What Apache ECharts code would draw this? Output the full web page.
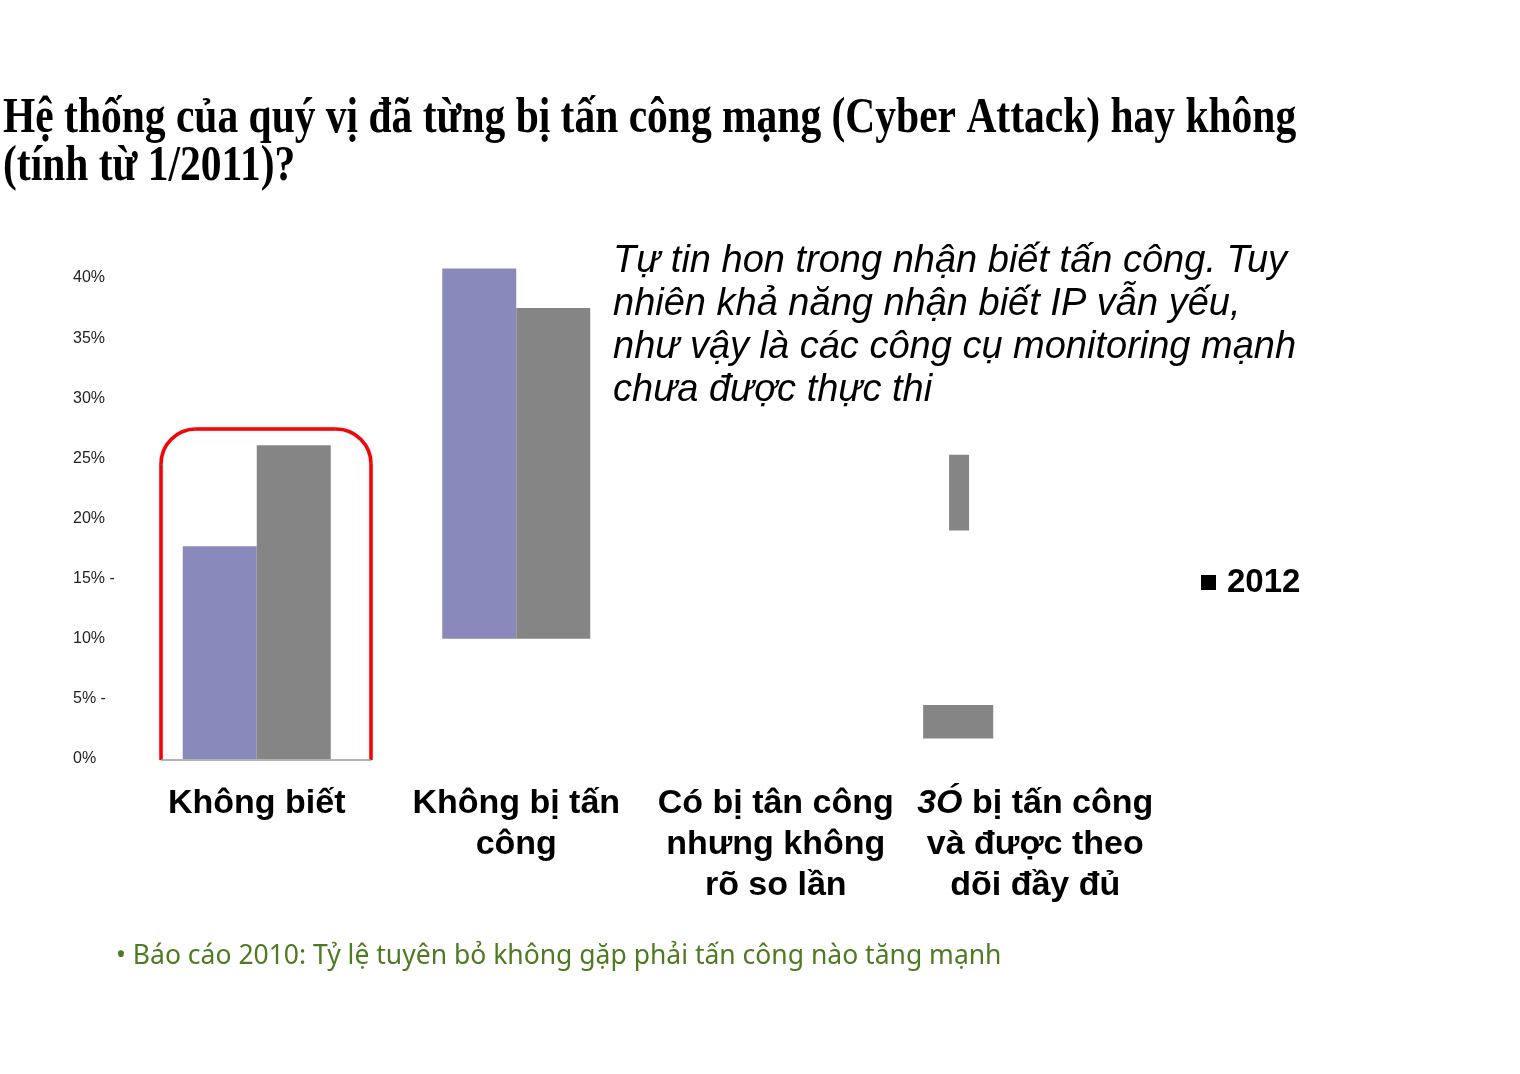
<!DOCTYPE html>
<html>
<head>
<meta charset="utf-8">
<script src="https://cdn.jsdelivr.net/npm/echarts@6/dist/echarts.min.js"></script>
<style>
html,body{margin:0;padding:0;background:#fff;}
#chart{width:1520px;height:1074px;}
</style>
</head>
<body>
<div id="chart"></div>
<script>
// ---- data ----
const categories = [
  'Không biết',
  'Không bị tấn\ncông',
  'Có bị tân công\nnhưng không\nrõ so lần',
  '3Ó bị tấn công\nvà được theo\ndõi đầy đủ'
];
const tickLabels = ['0%', '5% -', '10%', '15% -', '20%', '25%', '30%', '35%', '40%'];
const series2011Low  = [0, 10, null, null];
const series2011High = [17.7, 40.8, null, null];
const series2012Low  = [0, 10, null, null];
const series2012High = [26.1, 37.5, null, null];
// stray grey fragments in the last category: [category index, low, high]
const fragCat  = [3, 3];
const fragLow  = [1.7, 19.0];
const fragHigh = [4.5, 25.3];

const titleText = 'Hệ thống của quý vị đã từng bị tấn công mạng (Cyber Attack) hay không\n(tính từ 1/2011)?';
const noteText = 'Tự tin hon trong nhận biết tấn công. Tuy\nnhiên khả năng nhận biết IP vẫn yếu,\nnhư vậy là các công cụ monitoring mạnh\nchưa được thực thi';
const footText = '• Báo cáo 2010: Tỷ lệ tuyên bỏ không gặp phải tấn công nào tăng mạnh';

// ---- build ----
const diff = (hi, lo) => hi.map((v, i) => v == null ? null : +(v - lo[i]).toFixed(2));
const fragData = fragCat.map((c, i) => [c, fragLow[i], fragHigh[i]]);
const fragX = [[-0.432, -0.162], [-0.332, -0.255]]; // horizontal placement within band

const chart = echarts.init(document.getElementById('chart'));
const BAR_W = 74;
const boxStyle = { fill: 'none', stroke: '#FF0000', lineWidth: 3.5, shadowColor: 'rgba(0,230,255,0.6)', shadowBlur: 3 };
const option = {
  animation: false,
  backgroundColor: '#ffffff',
  grid: { left: 127, right: 355, top: 254, bottom: 315 },
  legend: {
    data: ['2012'],
    left: 1196, top: 561,
    icon: 'rect', itemWidth: 15, itemHeight: 15,
    itemStyle: { color: '#000' },
    textStyle: { fontFamily: '"Liberation Sans", Arial', fontWeight: 'bold', fontSize: 33, color: '#000', padding: [0, 0, 0, 6] }
  },
  xAxis: {
    type: 'category',
    data: categories,
    axisLine: { show: false },
    axisTick: { show: false },
    splitLine: { show: false },
    axisLabel: {
      interval: 0,
      margin: 24,
      color: '#000',
      fontFamily: '"Liberation Sans", Arial',
      fontWeight: 'bold',
      fontSize: 34,
      lineHeight: 41,
      formatter: v => v.indexOf('3Ó') === 0 ? '{it|3Ó}' + v.slice(2) : v,
      rich: {
        it: { fontStyle: 'italic', fontWeight: 'bold', fontSize: 34, lineHeight: 41, fontFamily: '"Liberation Sans", Arial', color: '#000' }
      }
    }
  },
  yAxis: {
    type: 'value',
    min: 0, max: 42, interval: 5,
    axisLine: { show: false },
    axisTick: { show: false },
    splitLine: { show: false },
    axisLabel: {
      align: 'left',
      margin: 54,
      color: '#222',
      fontFamily: '"Liberation Sans", Arial',
      fontSize: 16,
      formatter: v => (v % 5 === 0 && tickLabels[v / 5] !== undefined) ? tickLabels[v / 5] : ''
    }
  },
  series: [
    { name: 'base2011', type: 'bar', stack: 's2011', barWidth: BAR_W, barGap: '0%', silent: true,
      itemStyle: { color: 'transparent' }, data: series2011Low },
    { name: '2011', type: 'bar', stack: 's2011', barWidth: BAR_W, barGap: '0%',
      itemStyle: { color: '#8989BC' }, data: diff(series2011High, series2011Low) },
    { name: 'base2012', type: 'bar', stack: 's2012', barWidth: BAR_W, barGap: '0%', silent: true,
      itemStyle: { color: 'transparent' }, data: series2012Low },
    { name: '2012', type: 'bar', stack: 's2012', barWidth: BAR_W, barGap: '0%',
      itemStyle: { color: '#858585' }, data: diff(series2012High, series2012Low) },
    { name: 'fragments', type: 'custom', silent: true,
      itemStyle: { color: '#858585' },
      data: fragData,
      renderItem: function (params, api) {
        const c = api.value(0);
        const lo = api.coord([c, api.value(1)]);
        const hi = api.coord([c, api.value(2)]);
        const band = api.size([1, 0])[0];
        const f = fragX[params.dataIndex];
        return {
          type: 'rect',
          shape: { x: lo[0] + f[0] * band, y: hi[1], width: (f[1] - f[0]) * band, height: lo[1] - hi[1] },
          style: api.style({ fill: '#858585' })
        };
      }
    }
  ],
  graphic: [
    { type: 'text', x: 3, y: 95, scaleX: 0.83,
      style: { text: titleText, font: 'bold 50px "Liberation Serif", "Times New Roman"', lineHeight: 48, fill: '#000' } },
    { type: 'text', x: 613, y: 240,
      style: { text: noteText, font: 'italic 38px "Liberation Sans", Arial', lineHeight: 43, fill: '#000' } },
    { type: 'text', x: 116, y: 943,
      style: { text: footText, font: '26.5px "Noto Sans", "Open Sans"', fill: '#4E7A22' } },
    { type: 'line', shape: { x1: 161, y1: 760, x2: 161, y2: 464 }, style: boxStyle },
    { type: 'arc', shape: { cx: 196, cy: 464, r: 35, startAngle: Math.PI, endAngle: Math.PI * 1.5, clockwise: true }, style: boxStyle },
    { type: 'line', shape: { x1: 196, y1: 429, x2: 336, y2: 429 }, style: boxStyle },
    { type: 'arc', shape: { cx: 336, cy: 464, r: 35, startAngle: Math.PI * 1.5, endAngle: Math.PI * 2, clockwise: true }, style: boxStyle },
    { type: 'line', shape: { x1: 371, y1: 464, x2: 371, y2: 760 }, style: boxStyle },
    { type: 'line', shape: { x1: 161, y1: 760, x2: 371, y2: 760 }, style: { stroke: '#9a9a9a', lineWidth: 1.5 } }
  ]
};
chart.setOption(option);
</script>
</body>
</html>
